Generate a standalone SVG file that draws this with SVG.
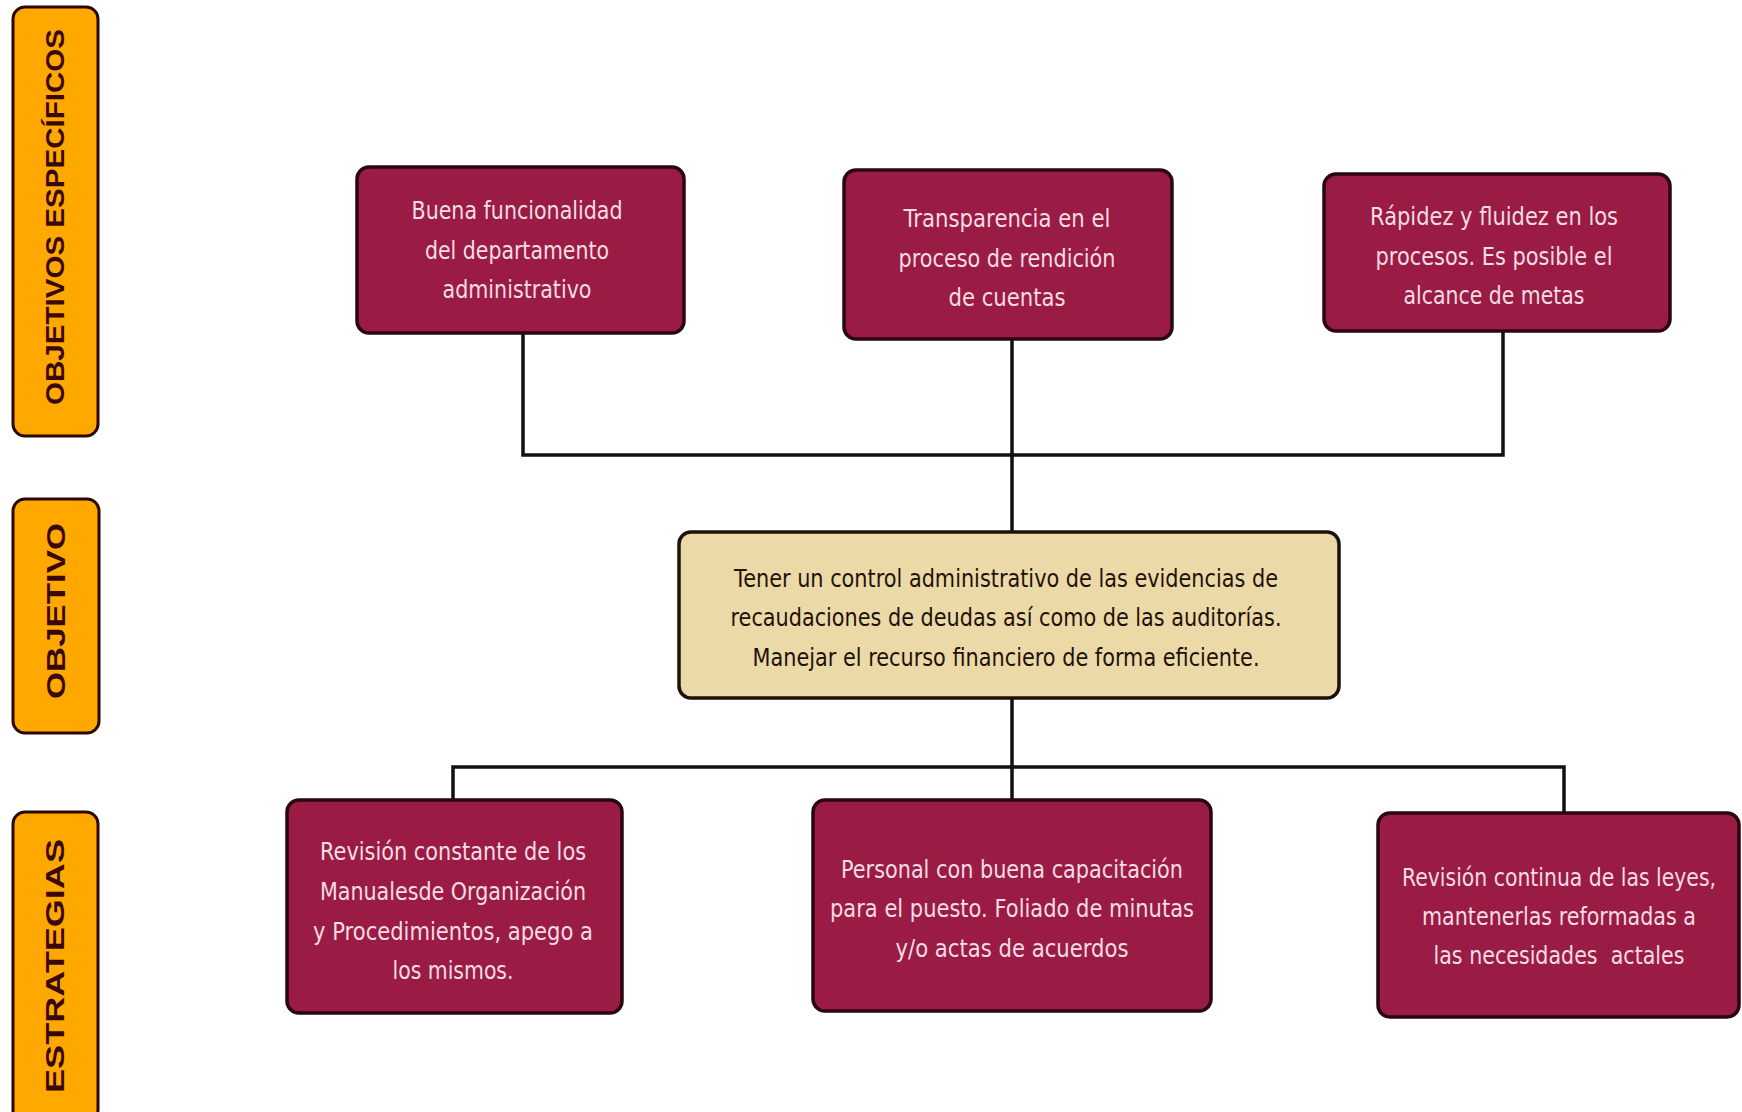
<svg xmlns="http://www.w3.org/2000/svg" width="1742" height="1112" viewBox="0 0 1742 1112">
<style>
.lab rect{fill:#FFA800;stroke:#2a0800;stroke-width:3}
.lab text{font-family:"Liberation Sans",Arial,sans-serif;font-size:25px;font-weight:bold;fill:#3a0808;text-anchor:middle;dominant-baseline:central}
.red rect{fill:#9A1C45;stroke:#2a0610;stroke-width:3.5}
.red text{font-family:"DejaVu Sans","Liberation Sans",sans-serif;font-size:24px;fill:#F6DCE4;text-anchor:middle;dominant-baseline:central}
.tan rect{fill:#EBD9A8;stroke:#1e1208;stroke-width:3.5}
.tan text{font-family:"DejaVu Sans","Liberation Sans",sans-serif;font-size:24px;fill:#1e1208;text-anchor:middle;dominant-baseline:central}
.conn{fill:none;stroke:#111;stroke-width:3.5}
</style>
<rect width="1742" height="1112" fill="#fff"/>
<g id="label-objetivos-especificos" class="lab">
<rect x="13" y="7" width="85" height="429" rx="12"/>
<text transform="translate(55,217) rotate(-90)" textLength="376" lengthAdjust="spacingAndGlyphs">OBJETIVOS ESPECÍFICOS</text>
</g>
<g id="label-objetivo" class="lab">
<rect x="13" y="499" width="86" height="234" rx="12"/>
<text transform="translate(56,611) rotate(-90)" textLength="176" lengthAdjust="spacingAndGlyphs">OBJETIVO</text>
</g>
<g id="label-estrategias" class="lab">
<rect x="13" y="812" width="85" height="310" rx="12"/>
<text transform="translate(55,966) rotate(-90)" textLength="254" lengthAdjust="spacingAndGlyphs">ESTRATEGIAS</text>
</g>
<g id="connectors" class="conn">
<path d="M523,333 V455 H1503 V331"/>
<path d="M1012,339 V532"/>
<path d="M1012,698 V800"/>
<path d="M453,800 V767 H1564 V813"/>
</g>
<g id="node-buena" class="red">
<rect x="357" y="167" width="327" height="166" rx="12"/>
<text x="517" y="211" textLength="211" lengthAdjust="spacingAndGlyphs">Buena funcionalidad</text>
<text x="517" y="251" textLength="184" lengthAdjust="spacingAndGlyphs">del departamento</text>
<text x="517" y="290" textLength="149" lengthAdjust="spacingAndGlyphs">administrativo</text>
</g>
<g id="node-transparencia" class="red">
<rect x="844" y="170" width="328" height="169" rx="12"/>
<text x="1007" y="219" textLength="207" lengthAdjust="spacingAndGlyphs">Transparencia en el</text>
<text x="1007" y="259" textLength="217" lengthAdjust="spacingAndGlyphs">proceso de rendición</text>
<text x="1007" y="298" textLength="117" lengthAdjust="spacingAndGlyphs">de cuentas</text>
</g>
<g id="node-rapidez" class="red">
<rect x="1324" y="174" width="346" height="157" rx="12"/>
<text x="1494" y="217" textLength="248" lengthAdjust="spacingAndGlyphs">Rápidez y fluidez en los</text>
<text x="1494" y="257" textLength="237" lengthAdjust="spacingAndGlyphs">procesos. Es posible el</text>
<text x="1494" y="296" textLength="181" lengthAdjust="spacingAndGlyphs">alcance de metas</text>
</g>
<g id="node-objetivo" class="tan">
<rect x="679" y="532" width="660" height="166" rx="12"/>
<text x="1006" y="579" textLength="544" lengthAdjust="spacingAndGlyphs">Tener un control administrativo de las evidencias de</text>
<text x="1006" y="618" textLength="551" lengthAdjust="spacingAndGlyphs">recaudaciones de deudas así como de las auditorías.</text>
<text x="1006" y="658" textLength="507" lengthAdjust="spacingAndGlyphs">Manejar el recurso financiero de forma eficiente.</text>
</g>
<g id="node-revision-manuales" class="red">
<rect x="287" y="800" width="335" height="213" rx="12"/>
<text x="453" y="852" textLength="266" lengthAdjust="spacingAndGlyphs">Revisión constante de los</text>
<text x="453" y="892" textLength="266" lengthAdjust="spacingAndGlyphs">Manualesde Organización</text>
<text x="453" y="932" textLength="280" lengthAdjust="spacingAndGlyphs">y Procedimientos, apego a</text>
<text x="453" y="971" textLength="121" lengthAdjust="spacingAndGlyphs">los mismos.</text>
</g>
<g id="node-personal" class="red">
<rect x="813" y="800" width="398" height="211" rx="12"/>
<text x="1012" y="870" textLength="342" lengthAdjust="spacingAndGlyphs">Personal con buena capacitación</text>
<text x="1012" y="909" textLength="364" lengthAdjust="spacingAndGlyphs">para el puesto. Foliado de minutas</text>
<text x="1012" y="949" textLength="233" lengthAdjust="spacingAndGlyphs">y/o actas de acuerdos</text>
</g>
<g id="node-revision-leyes" class="red">
<rect x="1378" y="813" width="361" height="204" rx="12"/>
<text x="1559" y="878" textLength="314" lengthAdjust="spacingAndGlyphs">Revisión continua de las leyes,</text>
<text x="1559" y="917" textLength="274" lengthAdjust="spacingAndGlyphs">mantenerlas reformadas a</text>
<text x="1559" y="956" textLength="251" lengthAdjust="spacingAndGlyphs">las necesidades&#160; actales</text>
</g>
</svg>
